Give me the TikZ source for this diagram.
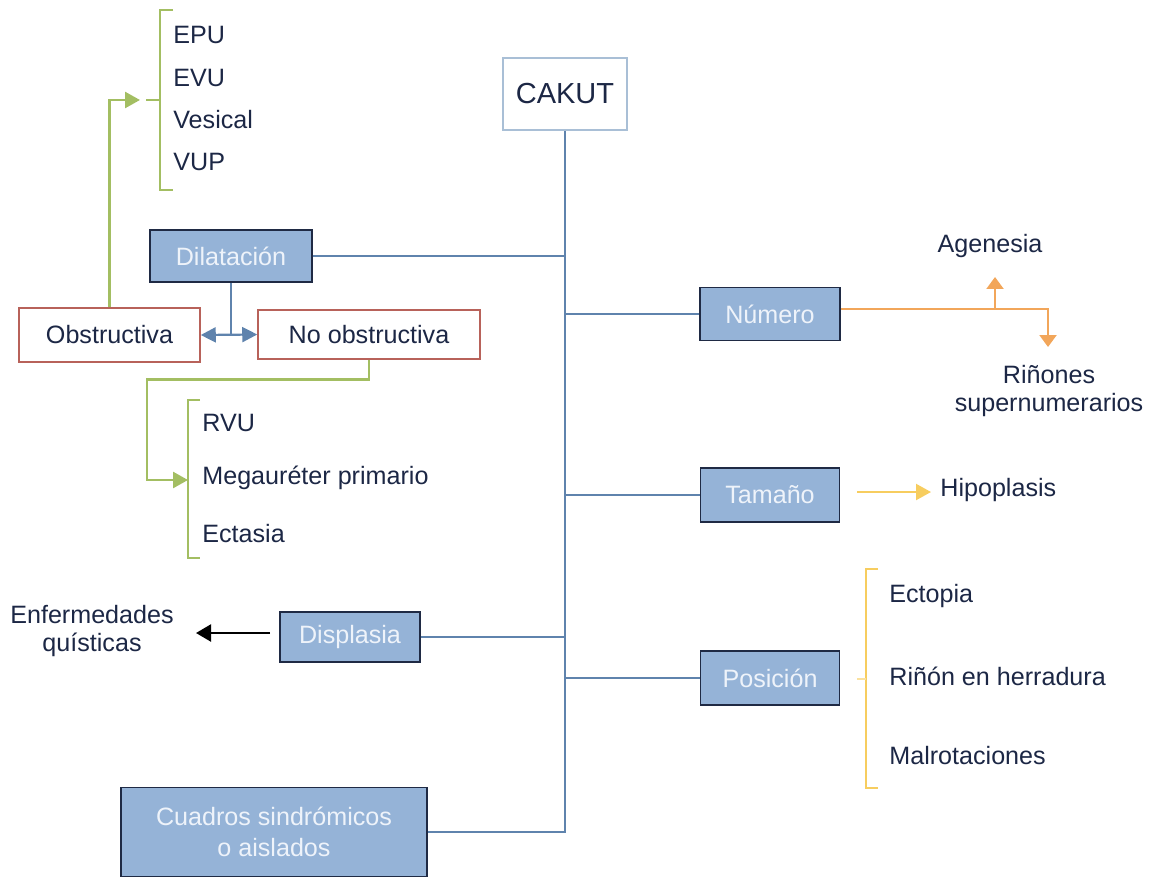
\documentclass[tikz,border=0pt]{standalone}
\usepackage{fontspec}
\setmainfont{Liberation Sans}
\usetikzlibrary{arrows.meta, positioning, calc}
\definecolor{boxfill}{HTML}{95B3D7}
\definecolor{boxline}{HTML}{1F2A44}
\definecolor{boxtext}{HTML}{EEF3FA}
\definecolor{trunkblue}{HTML}{5F83AD}
\definecolor{txtnavy}{HTML}{1C2745}
\definecolor{obsred}{HTML}{B8625A}
\definecolor{leafgreen}{HTML}{A3BE62}
\definecolor{numorange}{HTML}{F2A65A}
\definecolor{posyellow}{HTML}{F7CD5F}
\definecolor{cakutline}{HTML}{A9BFD6}

\begin{document}
\begin{tikzpicture}[x=0.02cm, y=-0.02cm, font=\fontsize{14.3}{16.5}\selectfont,
    catbox/.style={draw=boxline, line width=1.1pt, fill=boxfill, text=boxtext, inner sep=0pt, align=center},
    subbox/.style={draw=obsred, line width=0.9pt, fill=white, text=txtnavy, inner sep=0pt},
    leaf/.style={anchor=west, inner sep=0pt, text=txtnavy},
    trunk/.style={draw=trunkblue, line width=1.25pt},
    greenline/.style={draw=leafgreen, line width=1.5pt},
    yellowline/.style={draw=posyellow, line width=1.25pt},
    orangeline/.style={draw=numorange, line width=1.25pt},
    tip/.style={-{Triangle[length=0.3cm, width=0.32cm]}},
    flattip/.style={-{Triangle[length=0.24cm, width=0.34cm]}}]
    \useasboundingbox (0,0) rectangle (1151,878);

    % CAKUT
    \node[draw=cakutline, line width=0.9pt, fill=white, text=txtnavy, minimum width=2.48cm, minimum height=1.44cm, font=\fontsize{16.5}{19}\selectfont] (cakut) at (565,94) {CAKUT};
    \coordinate (tb) at (566,835);

    % Categories
    \node[catbox, minimum width=3.24cm, minimum height=1.04cm] (dil) at (231,256) {Dilatación};
    \node[catbox, minimum width=2.8cm, minimum height=1.06cm] (num) at (770,314) {Número};
    \node[catbox, minimum width=2.78cm, minimum height=1.08cm] (tam) at (770,495) {Tamaño};
    \node[catbox, minimum width=2.8cm, minimum height=1.0cm] (dis) at (350,637) {Displasia};
    \node[catbox, minimum width=2.78cm, minimum height=1.08cm] (pos) at (770,678) {Posición};
    \node[catbox, minimum width=6.12cm, minimum height=1.78cm, font=\fontsize{14.3}{18}\selectfont] (cua) at (274,832) {Cuadros sindrómicos\\o aislados};

    % Trunk
    \draw[trunk] (cakut.south) -- (cakut.south |- cua.east);
    \draw[trunk] (dil.east) -- (dil.east -| tb);
    \draw[trunk] (num.west) -- (num.west -| tb);
    \draw[trunk] (tam.west) -- (tam.west -| tb);
    \draw[trunk] (dis.east) -- (dis.east -| tb);
    \draw[trunk] (pos.west) -- (pos.west -| tb);
    \draw[trunk] (cua.east) -- (cua.east -| tb);

    % Dilatacion
    \node[subbox, minimum width=3.62cm, minimum height=1.08cm] (obs) at (109.5,335) {Obstructiva};
    \node[subbox, minimum width=4.44cm, minimum height=0.98cm] (noobs) at (369,334.5) {No obstructiva};
    \coordinate (dj) at (dil.south |- obs.east);
    \draw[trunk] (dil.south) -- (dj);
    \draw[trunk, {Triangle[length=0.3cm, width=0.3cm]}-{Triangle[length=0.3cm, width=0.3cm]}] (obs.east) -- (noobs.west);

    % Obstructiva
    \coordinate (b1) at (160,100);
    \draw[greenline] (173,10) -- (160,10) -- (160,190) -- (173,190);
    \draw[greenline] (146,100) -- (b1);
    \draw[greenline, tip] (obs.north) |- (140,100);
    \node[leaf] (epu) at (173,35) {EPU};
    \node[leaf] (evu) at (173,78) {EVU};
    \node[leaf] (ves) at (173,120) {Vesical};
    \node[leaf] (vup) at (173,162) {VUP};

    % No obstructiva
    \coordinate (b2) at (188,480);
    \draw[greenline] (200,400) -- (188,400) -- (188,558) -- (200,558);
    \draw[greenline, tip] (noobs.south) -- ++(0,20) -| (147,480) -- (b2);
    \node[leaf] (rvu) at (202,423) {RVU};
    \node[leaf] (mega) at (202,478) {Megauréter primario};
    \node[leaf] (ect) at (202,534) {Ectasia};

    % Numero
    \node[text=txtnavy] (age) at (990,246) {Agenesia};
    \node[text=txtnavy, align=center] (sup) at (1049,391) {Riñones\\supernumerarios};
    \coordinate (nr) at (1048,309);
    \draw[orangeline, flattip] (num.east |- nr) -- (nr) -- (1048,347);
    \draw[orangeline, flattip] (995,309) -- (995,277);

    % Tamano
    \node[leaf] (hipo) at (940,490) {Hipoplasis};
    \draw[yellowline, tip] (857,492) -- (931,492);

    % Posicion
    \draw[yellowline] (878,569) -- (866,569) -- (866,788) -- (878,788);
    \draw[draw=posyellow!60, line width=0.8pt] (857,679) -- (866,679);
    \node[leaf] (ecto) at (889,596) {Ectopia};
    \node[leaf] (herr) at (889,676) {Riñón en herradura};
    \node[leaf] (malr) at (889,756) {Malrotaciones};

    % Displasia
    \node[text=txtnavy, align=center] (enf) at (92,631) {Enfermedades\\quísticas};
    \draw[line width=1.25pt, -{Triangle[length=0.3cm, width=0.34cm]}] (270,633) -- (196,633);
\end{tikzpicture}
\end{document}
